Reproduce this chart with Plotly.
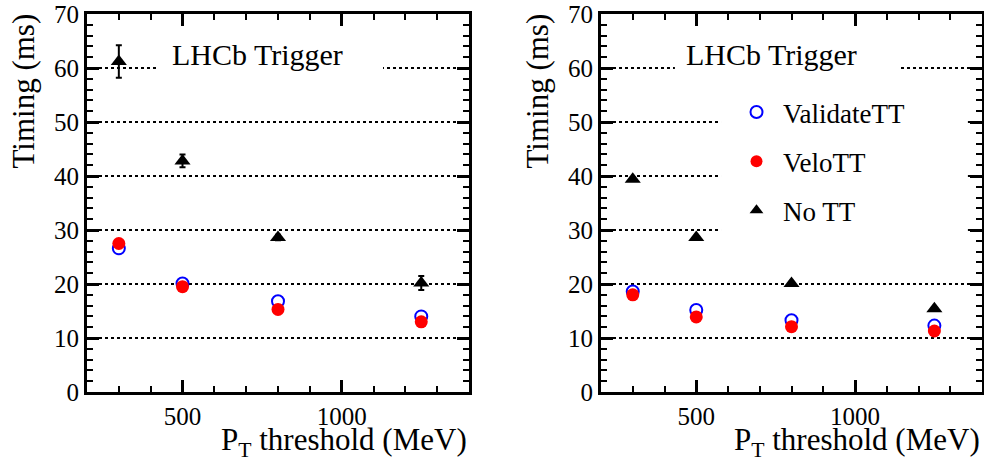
import plotly.graph_objects as go

# ---- data ----
pt = [300, 500, 800, 1250]
left_validate = [26.6, 20.1, 16.8, 14.0]
left_velo = [27.5, 19.5, 15.3, 13.0]
left_nott = [61.2, 42.8, 28.6, 20.2]
left_nott_err = [3.0, 1.2, 0.5, 1.3]
right_validate = [18.6, 15.2, 13.3, 12.3]
right_velo = [18.0, 13.9, 12.1, 11.3]
right_nott = [39.4, 28.6, 20.1, 15.4]
right_nott_err = [0.3, 0.3, 0.3, 0.3]
names = ["ValidateTT", "VeloTT", "No TT"]
xticks = [500, 1000]
yticks = [0, 10, 20, 30, 40, 50, 60, 70]

FONT = "Liberation Serif, Times New Roman, serif"
fig = go.Figure()

def add_panel(xa, ya, validate, velo, nott, nott_err, legend):
    fig.add_trace(go.Scatter(x=pt, y=validate, mode="markers", name=names[0],
                             xaxis=xa, yaxis=ya, showlegend=legend, legendgroup="a",
                             marker=dict(symbol="circle-open", size=12, color="#0000ff",
                                         line=dict(width=2, color="#0000ff"))))
    fig.add_trace(go.Scatter(x=pt, y=velo, mode="markers", name=names[1],
                             xaxis=xa, yaxis=ya, showlegend=legend, legendgroup="b",
                             marker=dict(symbol="circle", size=13, color="#ff0000")))
    fig.add_trace(go.Scatter(x=pt, y=nott, mode="markers", name=names[2],
                             xaxis=xa, yaxis=ya, showlegend=legend, legendgroup="c",
                             error_y=dict(type="data", array=nott_err, color="black",
                                          thickness=2, width=3),
                             marker=dict(symbol="triangle-up", size=14, color="black")))

add_panel("x", "y", left_validate, left_velo, left_nott, left_nott_err, False)
add_panel("x2", "y2", right_validate, right_velo, right_nott, right_nott_err, True)

xdoms = [[87 / 984, 469 / 984], [601 / 984, 982 / 984]]
ydom = [1 - 392 / 463, 1 - 14 / 463]

def xaxis(dom, anchor):
    return dict(domain=dom, anchor=anchor, range=[200, 1400], tickvals=xticks,
                ticks="inside", ticklen=12, tickwidth=2.5, tickcolor="black",
                showline=True, linewidth=3, linecolor="black", mirror="allticks",
                showgrid=False, zeroline=False, automargin=False,
                tickfont=dict(family=FONT, size=25, color="black"),
                minor=dict(dtick=100, tick0=0, ticks="inside", ticklen=6,
                           tickwidth=2, tickcolor="black", showgrid=False))

def yaxis(anchor):
    return dict(domain=ydom, anchor=anchor, range=[0, 70], tickvals=yticks,
                ticks="inside", ticklen=12, tickwidth=2.5, tickcolor="black",
                showline=True, linewidth=3, linecolor="black", mirror="allticks",
                showgrid=True, gridcolor="black", gridwidth=2, griddash="dot",
                zeroline=False, automargin=False,
                tickfont=dict(family=FONT, size=25, color="black"),
                minor=dict(dtick=2, tick0=0, ticks="inside", ticklen=6,
                           tickwidth=2, tickcolor="black", showgrid=False))

shapes = [
    dict(type="rect", xref="x domain", yref="y domain", x0=0.186, x1=0.775,
         y0=0.80, y1=0.93, fillcolor="white", line=dict(width=0), layer="above"),
    dict(type="rect", xref="x2 domain", yref="y2 domain", x0=0.194, x1=0.78,
         y0=0.80, y1=0.93, fillcolor="white", line=dict(width=0), layer="above"),
    dict(type="rect", xref="x2 domain", yref="y2 domain", x0=0.315, x1=0.963,
         y0=0.36, y1=0.785, fillcolor="white", line=dict(width=0), layer="above"),
]

annotations = []
for i, (xr, yr) in enumerate([("x domain", "y domain"), ("x2 domain", "y2 domain")]):
    annotations.append(dict(text="LHCb Trigger", xref=xr, yref=yr, x=0.447, y=0.943,
                            showarrow=False, font=dict(family=FONT, size=30, color="black")))
    annotations.append(dict(text="P<sub>T</sub> threshold (MeV)", xref=xr, yref="paper",
                            x=1.0, y=1 - 442 / 463, xanchor="right", yanchor="middle",
                            showarrow=False, font=dict(family=FONT, size=31, color="black")))
annotations.append(dict(text="Timing (ms)", xref="paper", yref="paper", x=23 / 984,
                        y=1 - 12 / 463, xanchor="center", yanchor="top", textangle=-90,
                        showarrow=False, font=dict(family=FONT, size=31, color="black")))
annotations.append(dict(text="Timing (ms)", xref="paper", yref="paper", x=537 / 984,
                        y=1 - 12 / 463, xanchor="center", yanchor="top", textangle=-90,
                        showarrow=False, font=dict(family=FONT, size=31, color="black")))

fig.update_layout(
    width=984, height=463, margin=dict(l=0, r=0, t=0, b=0, autoexpand=False),
    paper_bgcolor="white", plot_bgcolor="white",
    xaxis=xaxis(xdoms[0], "y"), yaxis=yaxis("x"),
    xaxis2=xaxis(xdoms[1], "y2"), yaxis2=yaxis("x2"),
    shapes=shapes, annotations=annotations,
    legend=dict(x=730 / 984, y=1 - 88 / 463, xanchor="left", yanchor="top",
                bgcolor="rgba(0,0,0,0)", tracegroupgap=11, itemwidth=43,
                font=dict(family=FONT, size=27, color="black"), itemsizing="constant"),
)

fig.write_html("out.html", config={"displayModeBar": False},
               post_script="document.body.style.margin='0';document.body.style.overflow='hidden';")
